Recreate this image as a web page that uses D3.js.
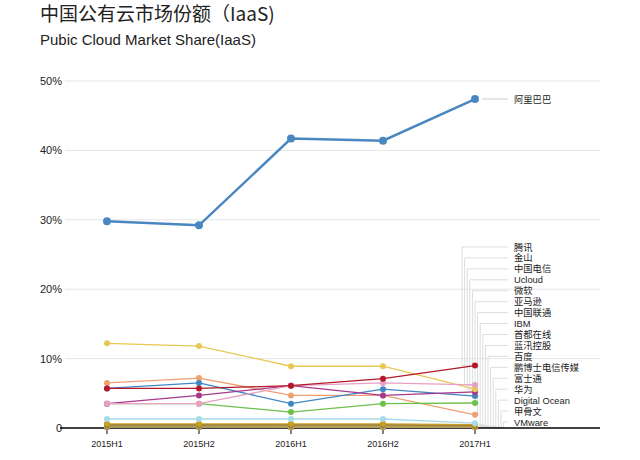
<!DOCTYPE html>
<html><head><meta charset="utf-8">
<script src="https://cdn.jsdelivr.net/npm/d3@7"></script>
<style>body{margin:0;background:#fff;font-family:"Noto Sans CJK SC","Liberation Sans",sans-serif}</style>
</head><body><svg id="c" width="640" height="460"></svg>
<script>
// Periods and series (share %)
var periods = ["2015H1", "2015H2", "2016H1", "2016H2", "2017H1"];
var names = ["阿里巴巴", "腾讯", "金山", "中国电信", "Ucloud", "微软", "亚马逊", "中国联通", "IBM",
  "首都在线", "蓝汛控股", "百度", "鹏博士电信传媒", "富士通", "华为", "Digital Ocean", "甲骨文", "VMware"];
var values = [
  [29.8, 29.2, 41.7, 41.4, 47.4],
  [5.7, 5.7, 6.1, 7.1, 9.0],
  [3.5, 3.5, 6.1, 6.5, 6.2],
  [12.2, 11.8, 8.9, 8.9, 5.6],
  [3.5, 4.7, 6.1, 4.7, 5.2],
  [5.7, 6.5, 3.5, 5.6, 4.6],
  [3.5, 3.5, 2.3, 3.5, 3.6],
  [6.5, 7.2, 4.7, 4.7, 1.9],
  [1.3, 1.3, 1.3, 1.3, 0.7],
  [0.6, 0.6, 0.6, 0.6, 0.5],
  [0.5, 0.5, 0.5, 0.5, 0.4],
  [0.4, 0.4, 0.4, 0.4, 0.3],
  [0.3, 0.3, 0.3, 0.3, 0.3],
  [0.3, 0.3, 0.2, 0.2, 0.2],
  [0.2, 0.2, 0.2, 0.2, 0.2],
  [0.1, 0.1, 0.1, 0.1, 0.1],
  [0.1, 0.1, 0.1, 0.1, 0.1],
  [0.1, 0.1, 0.1, 0.1, 0.1]
];
var colors = ["#4a87c0", "#b5182b", "#e8a0c4", "#e8c854", "#a8388c", "#3f86c4", "#6cc14a", "#f0a070",
  "#a6dbe8", "#c8a020", "#8b7d3a", "#b08050", "#9a9a60", "#d0b040", "#80a060", "#c09060", "#a07040", "#b0a040"];
var yTicks = [0, 10, 20, 30, 40, 50];

var svg = d3.select("#c");
svg.append("text").attr("x", 40).attr("y", 21).attr("font-size", 19).attr("fill", "#222").text("中国公有云市场份额（IaaS)");
svg.append("text").attr("x", 40).attr("y", 45).attr("font-size", 15).attr("fill", "#222")
  .attr("font-family", "Liberation Sans, sans-serif").text("Pubic Cloud Market Share(IaaS)");

var x = d3.scalePoint().domain(periods).range([107, 475]);
var y = d3.scaleLinear().domain([0, 50]).range([428, 81]);

// grid
svg.selectAll(".grid").data(yTicks.slice(1)).enter().append("line")
  .attr("x1", 65).attr("x2", 600).attr("y1", d => y(d)).attr("y2", d => y(d))
  .attr("stroke", "#e6e6e6");
svg.selectAll(".yl").data(yTicks).enter().append("text")
  .attr("x", 62).attr("y", d => y(d) + 4).attr("text-anchor", "end").attr("font-size", 11)
  .attr("font-family", "Liberation Sans, sans-serif").attr("fill", "#222")
  .text(d => d === 0 ? "0" : d + "%");

// leader lines + labels
var labelY = d3.scaleLinear().domain([1, names.length - 1]).range([247, 422]);
names.forEach(function (n, i) {
  var last = values[i][4];
  var ly = i === 0 ? y(last) : labelY(i);
  var lx = i === 0 ? 490 : 462 + (i - 1) * 2.6;
  var g = svg.append("g");
  if (i === 0) {
    g.append("line").attr("x1", 482).attr("x2", 508).attr("y1", ly).attr("y2", ly).attr("stroke", "#ccc");
  } else {
    g.append("path").attr("fill", "none").attr("stroke", "#ddd")
      .attr("d", "M" + (x("2017H1") + 4) + "," + y(last) + "H" + lx + "V" + ly + "H508");
  }
  g.append("text").attr("x", 514).attr("y", ly + 3.5).attr("font-size", 9.3)
    .attr("font-family", "Liberation Sans, Noto Sans CJK SC, sans-serif").attr("fill", "#222").text(n);
});

// x axis
svg.append("line").attr("x1", 60).attr("x2", 600).attr("y1", 428).attr("y2", 428).attr("stroke", "#000").attr("stroke-width", 1.5);
svg.selectAll(".xt").data(periods).enter().append("line")
  .attr("x1", d => x(d)).attr("x2", d => x(d)).attr("y1", 428).attr("y2", 434).attr("stroke", "#000");
svg.selectAll(".xl").data(periods).enter().append("text")
  .attr("x", d => x(d)).attr("y", 447).attr("text-anchor", "middle").attr("font-size", 9)
  .attr("font-family", "Liberation Sans, sans-serif").attr("fill", "#222").text(d => d);

// series, drawn small first so Alibaba on top
var line = d3.line().x((d, j) => x(periods[j])).y(d => y(d));
for (var i = names.length - 1; i >= 0; i--) {
  var w = i === 0 ? 2.5 : 1.3;
  svg.append("path").datum(values[i]).attr("fill", "none").attr("stroke", colors[i])
    .attr("stroke-width", w).attr("d", line);
  svg.selectAll(".p" + i).data(values[i]).enter().append("circle")
    .attr("cx", (d, j) => x(periods[j])).attr("cy", d => y(d))
    .attr("r", i === 0 ? 4 : 3).attr("fill", colors[i]);
}
</script></body></html>
